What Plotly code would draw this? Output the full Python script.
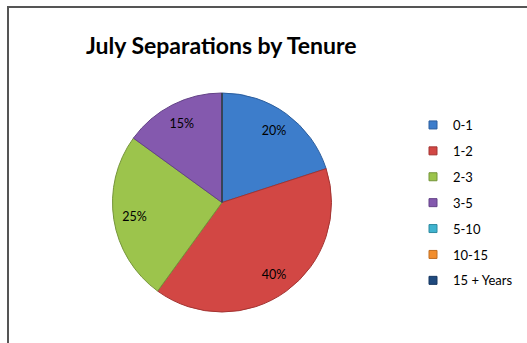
import plotly.graph_objects as go

categories = ["0-1", "1-2", "2-3", "3-5", "5-10", "10-15", "15 + Years"]
separations = [4, 8, 5, 3, 0, 0, 0]
colors = ["#3D7DCB", "#D24744", "#9CC44C", "#8459AE", "#3FB3CF", "#F28E2E", "#1F4A7E"]
edge_colors = ["#2C5E9E", "#A33432", "#75953A", "#634287", "#2E8AA0", "#C06E22", "#163660"]

W, H = 527, 343
pie_domain = dict(x=[112 / W, 332 / W], y=[1 - 312 / H, 1 - 93 / H])
fig = go.Figure()

# the pie slices
fig.add_trace(go.Pie(
    labels=categories,
    values=separations,
    sort=False,
    direction="clockwise",
    rotation=0,
    marker=dict(colors=colors, line=dict(color=edge_colors, width=1)),
    textinfo="none",
    showlegend=False,
    domain=pie_domain,
    hoverinfo="label+percent",
))

# transparent ring on top that carries the percentage labels near the rim
fig.add_trace(go.Pie(
    labels=categories,
    values=separations,
    sort=False,
    direction="clockwise",
    rotation=0,
    hole=0.62,
    marker=dict(colors=["rgba(0,0,0,0)"] * len(categories), line=dict(width=0)),
    texttemplate=["%{percent:.0%}" if v > 0 else "" for v in separations],
    textposition="inside",
    insidetextorientation="horizontal",
    insidetextfont=dict(family="Lato", size=12.5, color="#000000"),
    showlegend=False,
    domain=pie_domain,
    hoverinfo="skip",
))

for c, col, ec in zip(categories, colors, edge_colors):
    fig.add_trace(go.Scatter(
        x=[None], y=[None], mode="markers", name=c,
        marker=dict(symbol="square", size=8, color=col, line=dict(color=ec, width=1)),
        legendgroup=c, showlegend=True,
    ))

fig.update_layout(
    width=W, height=H,
    margin=dict(l=0, r=0, t=0, b=0),
    paper_bgcolor="white", plot_bgcolor="white",
    xaxis=dict(visible=False), yaxis=dict(visible=False),
    showlegend=True,
    uniformtext=dict(minsize=12.5, mode="show"),
    legend=dict(
        x=413 / W, y=1 - 110 / H, xanchor="left", yanchor="top",
        font=dict(family="Lato", size=13, color="#000000"),
        tracegroupgap=6, itemwidth=30,
        bgcolor="rgba(0,0,0,0)",
    ),
    annotations=[dict(
        text="<b>July Separations by Tenure</b>",
        x=221 / W, y=1 - 45 / H, xref="paper", yref="paper",
        xanchor="center", yanchor="middle", showarrow=False,
        font=dict(family="Lato", size=23, color="#000000"),
    )],
    shapes=[dict(
        type="rect", xref="paper", yref="paper",
        x0=8 / W, x1=1.02, y0=-0.02, y1=1 - 7 / H,
        line=dict(color="#555555", width=2), fillcolor="rgba(0,0,0,0)",
    )],
)

fig.write_html("out.html")
